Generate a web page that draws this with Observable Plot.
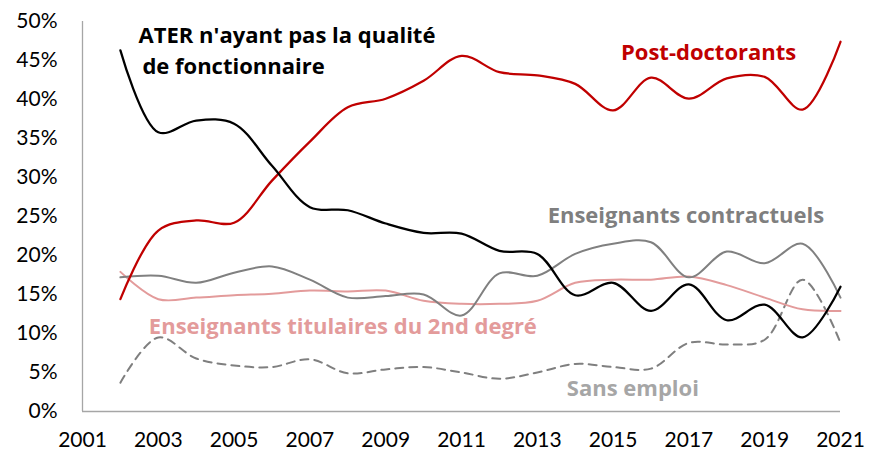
<!DOCTYPE html>
<html>
<head>
<meta charset="utf-8">
<script src="https://cdn.jsdelivr.net/npm/d3@7"></script>
<script src="https://cdn.jsdelivr.net/npm/@observablehq/plot@0.6"></script>
<style>
  html, body { margin: 0; padding: 0; background: #fff; }
  #chart svg { display: block; }
</style>
</head>
<body>
<div id="chart"></div>
<script>
const years = [2002,2003,2004,2005,2006,2007,2008,2009,2010,2011,2012,2013,2014,2015,2016,2017,2018,2019,2020,2021];
const ater        = [46.3,35.8,37.3,36.9,31.5,26.2,25.8,24.1,22.9,22.8,20.6,20.2,14.9,16.5,12.9,16.3,11.7,13.7,9.5,16.0];
const postdoc     = [14.4,23.2,24.5,24.2,29.6,34.6,39.0,40.1,42.4,45.6,43.5,43.1,42.0,38.6,42.8,40.1,42.7,42.9,38.7,47.4];
const contractuels= [17.2,17.4,16.5,17.8,18.6,16.9,14.6,14.8,15.0,12.3,17.7,17.4,20.2,21.5,21.7,17.2,20.5,19.0,21.5,14.6];
const titulaires  = [17.9,14.4,14.6,14.9,15.1,15.5,15.4,15.5,14.2,13.8,13.8,14.2,16.5,16.9,16.9,17.3,16.2,14.6,13.1,12.9];
const sansEmploi  = [3.7,9.5,6.8,5.9,5.7,6.7,4.9,5.4,5.7,5.0,4.2,5.0,6.1,5.7,5.5,8.8,8.6,9.2,16.9,8.8];
const xTicks = [2001,2003,2005,2007,2009,2011,2013,2015,2017,2019,2021];
const yTicks = [0,0.05,0.10,0.15,0.20,0.25,0.30,0.35,0.40,0.45,0.50];

const series = [
  {name: "ATER n'ayant pas la qualité de fonctionnaire", values: ater},
  {name: "Post-doctorants", values: postdoc},
  {name: "Enseignants contractuels", values: contractuels},
  {name: "Enseignants titulaires du 2nd degré", values: titulaires},
  {name: "Sans emploi", values: sansEmploi}
];
const rows = series.flatMap(s => years.map((yr, i) => ({serie: s.name, year: yr, value: s.values[i] / 100})));
const pick = name => rows.filter(d => d.serie === name);

const font = "Lato, 'Open Sans', sans-serif";
const labelFont = "'Open Sans', Lato, sans-serif";
const lab = (text, x, y, fill, anchor) => Plot.text([text], {
  x, y, text: d => d, textAnchor: anchor, lineAnchor: "bottom",
  fill, fontWeight: "bold", fontSize: 22, fontFamily: labelFont
});
const chart = Plot.plot({
  width: 879,
  height: 459,
  marginLeft: 82,
  marginRight: 39,
  marginTop: 21,
  marginBottom: 48,
  style: {fontFamily: font, fontSize: "21px", color: "#000", background: "#fff", overflow: "visible"},
  x: {domain: [2001, 2021], ticks: xTicks, tickFormat: d => String(d), tickSize: 0, tickPadding: 21, label: null},
  y: {domain: [0, 0.5], ticks: yTicks, tickFormat: d => Math.round(d * 100) + "%", tickSize: 0, tickPadding: 25, label: null},
  marks: [
    Plot.ruleX([2001], {y1: 0, y2: 0.5, stroke: "#a6a6a6", strokeWidth: 1.3}),
    Plot.ruleY([0], {stroke: "#a6a6a6", strokeWidth: 1.3}),
    Plot.lineY(pick("Sans emploi"), {x: "year", y: "value", stroke: "#7f7f7f", strokeWidth: 2, strokeDasharray: "8,6", curve: "catmull-rom"}),
    Plot.lineY(pick("Enseignants titulaires du 2nd degré"), {x: "year", y: "value", stroke: "#e39b9b", strokeWidth: 2, curve: "catmull-rom"}),
    Plot.lineY(pick("Enseignants contractuels"), {x: "year", y: "value", stroke: "#808080", strokeWidth: 2, curve: "catmull-rom"}),
    Plot.lineY(pick("Post-doctorants"), {x: "year", y: "value", stroke: "#c00000", strokeWidth: 2.25, curve: "catmull-rom"}),
    Plot.lineY(pick("ATER n'ayant pas la qualité de fonctionnaire"), {x: "year", y: "value", stroke: "#000", strokeWidth: 2.25, curve: "catmull-rom"}),
    lab("ATER n'ayant pas la qualité", 2002.48, 0.473, "#000", "start"),
    lab("de fonctionnaire", 2002.58, 0.433, "#000", "start"),
    lab("Post-doctorants", 2017.52, 0.451, "#c00000", "middle"),
    lab("Enseignants contractuels", 2016.92, 0.242, "#7f7f7f", "middle"),
    lab("Enseignants titulaires du 2nd degré", 2007.87, 0.100, "#e39b9b", "middle"),
    lab("Sans emploi", 2015.52, 0.0205, "#a6a6a6", "middle")
  ]
});
document.getElementById("chart").appendChild(chart);
</script>
</body>
</html>
